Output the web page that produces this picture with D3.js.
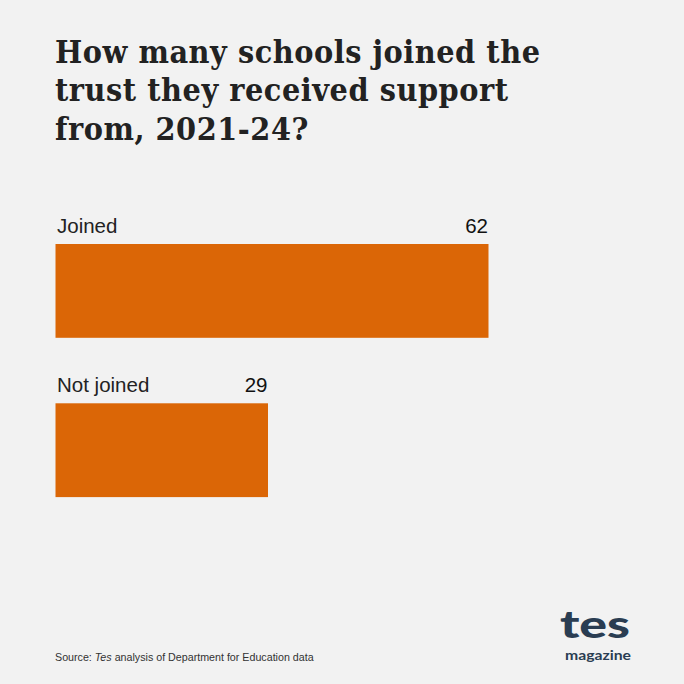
<!DOCTYPE html>
<html><head><meta charset="utf-8">
<script src="https://cdn.jsdelivr.net/npm/d3@7"></script>
<style>
html,body{margin:0;padding:0;background:#f2f2f2;}
svg{display:block;}
</style></head>
<body>
<script>
const categories = ["Joined", "Not joined"];
const values = [62, 29];
const titleLines = ["How many schools joined the", "trust they received support", "from, 2021-24?"];
const W = 684, H = 684;
const svg = d3.select("body").append("svg").attr("width", W).attr("height", H);
svg.append("rect").attr("width", W).attr("height", H).attr("fill", "#f2f2f2");

// Title
const title = svg.append("g");
titleLines.forEach((t, i) => {
  title.append("text").attr("x", 55).attr("y", 63 + i * 38.4)
    .attr("font-family", "'DejaVu Serif Condensed', 'DejaVu Serif', serif").attr("font-weight", "bold")
    .style("font-stretch", "condensed")
    .attr("font-size", 32).attr("fill", "#222").text(t);
});
const first = title.select("text").node();
const w0 = first.getComputedTextLength();
const ls = Math.max(0, (485 - w0) / 26);
title.selectAll("text").attr("letter-spacing", ls);

// Scales
const x = d3.scaleLinear().domain([-2.8, 62]).range([55.5, 488.5]);
const bandTop = [244, 403.3];
const bh = 93.8;

const g = svg.append("g");
categories.forEach((c, i) => {
  const v = values[i];
  g.append("rect").attr("x", x.range()[0]).attr("y", bandTop[i])
    .attr("width", x(v) - x.range()[0]).attr("height", bh).attr("fill", "#db6606");
  g.append("text").attr("x", 57).attr("y", bandTop[i] - 11)
    .attr("font-family", "'Liberation Sans', Arial, sans-serif").attr("font-size", 20.5)
    .attr("fill", "#222").text(c);
  g.append("text").attr("x", x(v) - 0.5).attr("y", bandTop[i] - 11).attr("text-anchor", "end")
    .attr("font-family", "'Liberation Sans', Arial, sans-serif").attr("font-size", 20.5)
    .attr("fill", "#111").text(v);
});

// Source
const src = svg.append("text").attr("x", 55).attr("y", 661)
  .attr("font-family", "'Liberation Sans', Arial, sans-serif").attr("font-size", 10.7).attr("fill", "#333");
src.append("tspan").text("Source: ");
src.append("tspan").attr("font-style", "italic").text("Tes");
src.append("tspan").text(" analysis of Department for Education data");

// Logo
svg.append("text").attr("x", 560).attr("y", 638).attr("textLength", 70).attr("lengthAdjust", "spacingAndGlyphs")
  .attr("font-family", "Lato, 'Open Sans', sans-serif").attr("font-weight", 900).attr("font-size", 38)
  .attr("fill", "#2a3d52").text("tes");
svg.append("text").attr("x", 565).attr("y", 659.5).attr("textLength", 66).attr("lengthAdjust", "spacingAndGlyphs")
  .attr("font-family", "Lato, 'Open Sans', sans-serif").attr("font-weight", 700).attr("font-size", 13)
  .attr("fill", "#2a3d52").text("magazine");
</script>
</body></html>
